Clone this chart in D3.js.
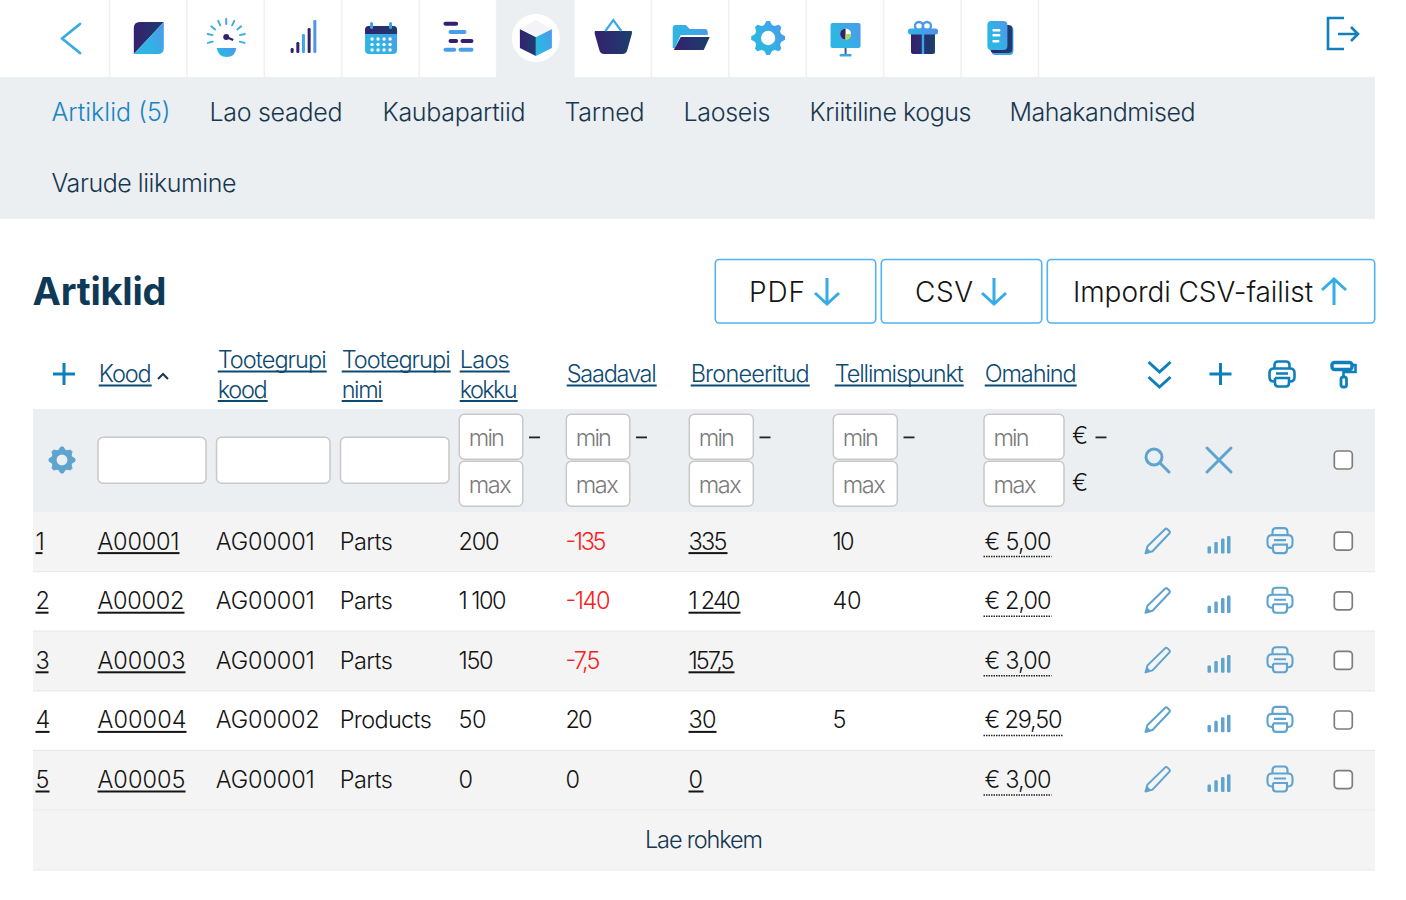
<!DOCTYPE html>
<html>
<head>
<meta charset="utf-8">
<title>Artiklid</title>
<script src="https://cdn.jsdelivr.net/npm/d3@7"></script>
<style>
	html, body { margin: 0; padding: 0; background: #fff; overflow: hidden; }
	svg { display: block; }
	text { font-family: Inter, "Open Sans", sans-serif; font-weight: 300; }
</style>
</head>
<body>
<svg id="view" width="1406" height="900"></svg>
<script>
// table data
var rowIds = [1, 2, 3, 4, 5];
var codes = ['A00001', 'A00002', 'A00003', 'A00004', 'A00005'];
var groupCodes = ['AG00001', 'AG00001', 'AG00001', 'AG00002', 'AG00001'];
var groupNames = ['Parts', 'Parts', 'Parts', 'Products', 'Parts'];
var inStock = [200, 1100, 150, 50, 0];
var available = [-135, -140, -7.5, 20, 0];
var reserved = [335, 1240, 157.5, 30, 0];
var reorderPoint = [10, 40, null, 5, null];
var costPrice = [5, 2, 3, 29.5, 3];

var navLabels = ['Artiklid (5)', 'Lao seaded', 'Kaubapartiid', 'Tarned', 'Laoseis', 'Kriitiline kogus', 'Mahakandmised', 'Varude liikumine'];
var buttonLabels = ['PDF', 'CSV', 'Impordi CSV-failist'];
var tabIcons = ['note', 'gauge', 'signal', 'calendar', 'gantt', 'box', 'basket', 'folder', 'gear', 'board', 'gift', 'docs'];

var navX = [51.5, 209.5, 382.5, 564.5, 683.5, 809.5, 1009.5, 51.5];
var navBase = [121, 121, 121, 121, 121, 121, 121, 191.5];
var buttonBox = [[715.3, 160.4], [881.3, 160.4], [1047.3, 327.4]];
var buttonTextX = [749, 915, 1073];
var buttonArrowX = [827, 994, 1334];
var textWidth = {
	'Artiklid (5)': 119, 'Lao seaded': 133, 'Kaubapartiid': 143, 'Tarned': 80, 'Laoseis': 87,
	'Kriitiline kogus': 162, 'Mahakandmised': 186, 'Varude liikumine': 185,
	'Artiklid': 134, 'PDF': 56, 'CSV': 58, 'Impordi CSV-failist': 240, 'Lae rohkem': 118,
	'Kood': 53, 'Tootegrupi': 109, 'kood': 50, 'nimi': 41, 'Laos': 50, 'kokku': 58,
	'Saadaval': 90, 'Broneeritud': 119, 'Tellimispunkt': 129, 'Omahind': 92,
	'A00001': 82, 'A00002': 87, 'A00003': 88, 'A00004': 89, 'A00005': 88,
	'AG00001': 99, 'AG00002': 104, 'Parts': 53, 'Products': 92,
	'200': 41, '1 100': 48, '150': 35, '50': 28, '0': 15,
	'-135': 41, '-140': 45, '-7,5': 35, '20': 27,
	'335': 39, '1 240': 52, '157,5': 46, '30': 28,
	'10': 22, '40': 29, '5': 14,
	'€ 5,00': 67, '€ 2,00': 67, '€ 3,00': 67, '€ 29,50': 78,
	'1': 7, '2': 13, '3': 13, '4': 14,
	'min': 36, 'max': 43
};

var COLOR_NAV = '#17374f', COLOR_HEAD = '#0d4a72', COLOR_BLUE = '#0f7fbc', COLOR_SOFT = '#5fa3cf';
var COLOR_BODY = '#141414', COLOR_RED = '#fb2020', COLOR_BAND = '#ecEff2', COLOR_ROW = '#f4f4f5';

var svg = d3.select('#view');

var numberLocale = d3.formatLocale({ decimal: ',', thousands: '\u2009', grouping: [3], currency: ['€ ', ''], minus: '-' });
var fmtNumber = function (d) { return numberLocale.format(',.1~f')(d).replace('\u2009', ' '); };
var fmtMoney = function (d) { return '€ ' + numberLocale.format(',.2f')(d); };

var columnX = d3.scaleOrdinal()
	.domain(['id', 'code', 'groupCode', 'groupName', 'stock', 'available', 'reserved', 'reorder', 'cost', 'edit', 'stats', 'print', 'check'])
	.range([35.5, 97.5, 215.8, 339.8, 458.5, 565.5, 688.5, 832.5, 983.5, 1157.5, 1219, 1280, 1343.3]);

var rowY = d3.scaleBand().domain(rowIds).range([512, 810]);
var tabX = d3.scaleBand().domain(tabIcons).range([109.5, 1038.5]);

/* text helper, tracks each string to the width it has in the reference */
function label(parent, str, x, y, opts) {
	opts = opts || {};
	var t = parent.append('text')
		.attr('x', x).attr('y', y)
		.attr('font-size', opts.size || 23.5)
		.attr('fill', opts.color || COLOR_BODY)
		.style('font-weight', opts.weight || 300)
		.text(str);
	var w = textWidth[str];
	if (w) {
		t.attr('textLength', w).attr('lengthAdjust', 'spacing');
	}
	if (opts.underline) {
		parent.append('rect')
			.attr('x', x).attr('y', y + 2.5)
			.attr('width', w).attr('height', 2)
			.attr('fill', opts.color || COLOR_BODY);
	}
	return t;
}

function addGradient(id, stops, x2, y2) {
	var g = defs.append('linearGradient').attr('id', id)
		.attr('x1', 0).attr('y1', 0).attr('x2', x2).attr('y2', y2);
	stops.forEach(function (s, i) {
		g.append('stop').attr('offset', i / (stops.length - 1)).attr('stop-color', s);
	});
}

var defs = svg.append('defs');
addGradient('gDark', ['#35206f', '#1b3f6d'], 1, 0);
addGradient('gLight', ['#2fb4e3', '#4f8fee'], 1, 0);
addGradient('gDiag', ['#2fb4e3', '#5b8def'], 1, -0.6);

/* ---- icons, drawn around 0,0 ---- */
var icons = {
	note: function (g) {
		g.append('path').attr('d', 'M-15,16 V-10 Q-15,-16 -9,-16 H15 L-15,16Z').attr('fill', 'url(#gDark)');
		g.append('path').attr('d', 'M15,-16 V10 Q15,16 9,16 H-15 Z').attr('fill', 'url(#gDiag)');
	},
	gauge: function (g) {
		[-105, -78, -52, -25, 0, 25, 52, 78, 105].forEach(function (a) {
			g.append('line').attr('x1', 0).attr('y1', -14).attr('x2', 0).attr('y2', -19)
				.attr('transform', 'rotate(' + a + ')')
				.attr('stroke', a % 50 === 0 ? '#4b97ea' : '#37ade6').attr('stroke-width', 1.9).attr('stroke-linecap', 'round');
		});
		g.append('circle').attr('cx', 0).attr('cy', -1).attr('r', 3).attr('fill', '#33206f');
		g.append('line').attr('x1', 0).attr('y1', -1).attr('x2', 7).attr('y2', 2).attr('stroke', '#33206f').attr('stroke-width', 2.4);
		g.append('path').attr('d', 'M-9.5,10 H10 Q9,19 0.5,19 Q-8,19 -9.5,10Z').attr('fill', 'url(#gDiag)');
	},
	signal: function (g) {
		[[-11.5, 5, '#35206f'], [-5.8, 11, '#35206f'], [-0.2, 19, '#3aa8e6'], [5.5, 25, '#35206f'], [11.2, 33, '#4b97ea']].forEach(function (b) {
			g.append('rect').attr('x', b[0] - 1.5).attr('y', 15 - b[1]).attr('width', 3).attr('height', b[1]).attr('rx', 1.3).attr('fill', b[2]);
		});
	},
	calendar: function (g) {
		g.append('rect').attr('x', -16).attr('y', -12).attr('width', 32).attr('height', 28).attr('rx', 4).attr('fill', 'url(#gDiag)');
		g.append('path').attr('d', 'M-16,-4 V-8 Q-16,-12 -12,-12 H12 Q16,-12 16,-8 V-4Z').attr('fill', 'url(#gDark)');
		[-5, 5].forEach(function (x) {
			g.append('rect').attr('x', x * 1.9 - 1.5).attr('y', -16).attr('width', 3).attr('height', 7).attr('rx', 1.5).attr('fill', '#3f9fe8');
		});
		[-9, -3, 3, 9].forEach(function (x) {
			[1, 6.5, 12].forEach(function (y) {
				g.append('circle').attr('cx', x).attr('cy', y).attr('r', 1.7).attr('fill', '#fff');
			});
		});
	},
	gantt: function (g) {
		[[-15, -14.3, 14.7, 0], [-10, -6, 18, 1], [-10, 3, 9.7, 0], [2, 3, 13, 0], [-15, 11.7, 12.7, 1], [0, 11.7, 15, 1]].forEach(function (b) {
			g.append('rect').attr('x', b[0]).attr('y', b[1] - 2).attr('width', b[2]).attr('height', 4).attr('rx', 2)
				.attr('fill', b[3] ? '#4b9fe8' : '#33206f');
		});
	},
	box: function (g) {
		g.append('ellipse').attr('rx', 24).attr('ry', 24).attr('fill', '#fff');
		g.append('path').attr('d', 'M-16,-9 L0,-1 V18 L-16,10Z').attr('fill', 'url(#gDark)');
		g.append('path').attr('d', 'M16,-9 L0,-1 V18 L16,10Z').attr('fill', 'url(#gDiag)');
		g.append('path').attr('d', 'M-16,-9 L0,-18 L16,-9 L0,-1Z').attr('fill', '#f2f4f7');
	},
	basket: function (g) {
		g.append('path').attr('d', 'M-18,-7 H18 Q19,-7 18.5,-4 L14,12 Q13,16 9,16 H-9 Q-13,16 -14,12 L-18.5,-4 Q-19,-7 -18,-7Z').attr('fill', 'url(#gDark)');
		g.append('path').attr('d', 'M-8,-7 L0,-18 L8,-7').attr('fill', 'none').attr('stroke', '#3aa8e6').attr('stroke-width', 2.2);
	},
	folder: function (g) {
		g.append('path').attr('d', 'M-18,10 V-10 Q-18,-13 -15,-13 H-5 L-1,-9 H14 Q17,-9 17,-6 V-3 H-10 L-16,10Z').attr('fill', 'url(#gDiag)');
		g.append('path').attr('d', 'M-10,-1 H19 L13,12 H-17Z').attr('fill', 'url(#gDark)');
	},
	gear: function (g, color, r) {
		r = r || 17;
		var n = 8, d = '';
		d3.range(n * 4).forEach(function (i) {
			var a = (i + 0.5 - 1) / (n * 4) * 2 * Math.PI;
			var rad = (i % 4 < 2) ? r : r * 0.8;
			d += (i ? 'L' : 'M') + (Math.cos(a) * rad).toFixed(2) + ',' + (Math.sin(a) * rad).toFixed(2);
		});
		d += 'Z';
		g.append('path').attr('d', d).attr('fill', color || 'url(#gDiag)').attr('stroke', color || 'none').attr('stroke-linejoin', 'round');
		g.append('circle').attr('r', r * 0.42).attr('fill', color ? COLOR_BAND : '#fff');
	},
	board: function (g) {
		g.append('rect').attr('x', -15).attr('y', -15).attr('width', 30).attr('height', 25).attr('rx', 2).attr('fill', 'url(#gDiag)');
		g.append('circle').attr('cy', -4).attr('r', 5.5).attr('fill', '#fff');
		g.append('path').attr('d', 'M0,-4 V-9.5 A5.5,5.5 0 0 0 0,1.5Z').attr('fill', '#33206f');
		g.append('path').attr('d', 'M0,-4 H5.5 A5.5,5.5 0 0 1 0,1.5Z').attr('fill', '#b5d84a');
		g.append('rect').attr('x', -1).attr('y', 10).attr('width', 2).attr('height', 7).attr('fill', '#2f5f98');
		g.append('rect').attr('x', -6).attr('y', 16).attr('width', 12).attr('height', 2.5).attr('rx', 1).attr('fill', '#3aa8e6');
	},
	gift: function (g) {
		g.append('rect').attr('x', -12).attr('y', -9).attr('width', 24).attr('height', 25).attr('rx', 2).attr('fill', 'url(#gDark)');
		g.append('circle').attr('cx', -4).attr('cy', -12).attr('r', 4).attr('fill', 'none').attr('stroke', '#4b97ea').attr('stroke-width', 2.4);
		g.append('circle').attr('cx', 4).attr('cy', -12).attr('r', 4).attr('fill', 'none').attr('stroke', '#4b97ea').attr('stroke-width', 2.4);
		g.append('rect').attr('x', -15).attr('y', -9.5).attr('width', 30).attr('height', 6).attr('rx', 2.5).attr('fill', 'url(#gLight)');
		g.append('rect').attr('x', -1.2).attr('y', -4).attr('width', 2.4).attr('height', 20).attr('fill', '#3aa8e6');
	},
	docs: function (g) {
		g.append('rect').attr('x', -9).attr('y', -12).attr('width', 22).attr('height', 29).attr('rx', 4).attr('fill', '#3fa6e8');
		g.append('rect').attr('x', -10).attr('y', -13).attr('width', 22).attr('height', 28).attr('rx', 4).attr('fill', 'url(#gDark)');
		g.append('rect').attr('x', -13).attr('y', -17).attr('width', 20).attr('height', 29).attr('rx', 4).attr('fill', 'url(#gDiag)');
		[-8, -3, 3].forEach(function (y, i) {
			g.append('rect').attr('x', -8).attr('y', y - 1).attr('width', i === 2 ? 7 : 8).attr('height', 2.4).attr('rx', 1).attr('fill', '#fff');
		});
	},
	plus: function (g, color) {
		g.append('path').attr('d', 'M-11,0 H11 M0,-11 V11').attr('fill', 'none').attr('stroke', color).attr('stroke-width', 3);
	},
	chevrons: function (g, color) {
		g.append('path').attr('d', 'M-11,-12 L0,-2 L11,-12 M-11,3 L0,13 L11,3').attr('fill', 'none').attr('stroke', color).attr('stroke-width', 3);
	},
	printer: function (g, color, weight) {
		var p = g.append('g').attr('fill', 'none').attr('stroke', color).attr('stroke-width', weight || 2.1);
		p.append('path').attr('d', 'M-7.5,-5.5 V-9 Q-7.5,-12.5 -4,-12.5 H4 Q7.5,-12.5 7.5,-9 V-5.5');
		p.append('path').attr('d', 'M-7,7.5 H-8 Q-12.5,7.5 -12.5,3 V-1 Q-12.5,-5.5 -8,-5.5 H8 Q12.5,-5.5 12.5,-1 V3 Q12.5,7.5 8,7.5 H7');
		p.append('path').attr('d', 'M-6,-0.5 H6 M-7,4 H7 V9 Q7,12.5 4,12.5 H-4 Q-7,12.5 -7,9 V4');
	},
	roller: function (g, color) {
		var p = g.append('g').attr('fill', 'none').attr('stroke', color);
		p.append('rect').attr('x', -11.5).attr('y', -11.5).attr('width', 20).attr('height', 7).attr('rx', 2.5).attr('stroke-width', 3.4);
		p.append('path').attr('d', 'M9,-9 H12 V-2 H0 V4').attr('stroke-width', 2.6);
		p.append('rect').attr('x', -2.5).attr('y', 3).attr('width', 5.5).attr('height', 10).attr('rx', 2).attr('stroke-width', 2.8);
	},
	search: function (g, color) {
		g.append('circle').attr('cx', -3).attr('cy', -3).attr('r', 8).attr('fill', 'none').attr('stroke', color).attr('stroke-width', 3);
		g.append('line').attr('x1', 3).attr('y1', 3).attr('x2', 12).attr('y2', 12).attr('stroke', color).attr('stroke-width', 3).attr('stroke-linecap', 'round');
	},
	cross: function (g, color) {
		g.append('path').attr('d', 'M-12,-12 L12,12 M12,-12 L-12,12').attr('stroke', color).attr('stroke-width', 3).attr('stroke-linecap', 'round');
	},
	pencil: function (g, color) {
		g.append('path').attr('d', 'M-12,12 L-10,5 L8,-12.5 Q9,-13 10,-12 L12,-10 Q13,-9 12,-8 L-5,10Z')
			.attr('fill', 'none').attr('stroke', color).attr('stroke-width', 2).attr('stroke-linejoin', 'round');
		g.append('path').attr('d', 'M-12,12 L-10,7 L-7,10Z').attr('fill', color);
	},
	bars: function (g, color) {
		[[-11.5, 7.3], [-4.7, 11.6], [2, 15], [8, 17.6]].forEach(function (b) {
			g.append('rect').attr('x', b[0]).attr('y', 12.3 - b[1]).attr('width', 3.5).attr('height', b[1]).attr('rx', 1.2).attr('fill', color);
		});
	},
	checkbox: function (g) {
		g.append('rect').attr('x', -9).attr('y', -9).attr('width', 18).attr('height', 18).attr('rx', 3.5)
			.attr('fill', '#fff').attr('stroke', '#7d7d7d').attr('stroke-width', 1.7);
	}
};

function icon(name, x, y, color, extra) {
	var g = svg.append('g').attr('transform', 'translate(' + x + ',' + y + ')');
	icons[name](g, color, extra);
	return g;
}

/* ---- top bar ---- */
svg.append('rect').attr('x', tabX('box')).attr('y', 0).attr('width', tabX.bandwidth()).attr('height', 77).attr('fill', COLOR_BAND);
svg.append('rect').attr('x', 0).attr('y', 77).attr('width', 1375).attr('height', 142).attr('fill', COLOR_BAND);

svg.append('g').selectAll('line')
	.data(tabX.domain().concat('end'))
	.join('line')
	.attr('x1', function (d) { return d === 'end' ? tabX.range()[1] : tabX(d); })
	.attr('x2', function (d) { return d === 'end' ? tabX.range()[1] : tabX(d); })
	.attr('y1', 0).attr('y2', 77)
	.attr('stroke', '#eef0f3').attr('stroke-width', 1.5);

svg.append('path').attr('d', 'M80,24 L62,38.5 L80,53').attr('fill', 'none').attr('stroke', '#35ace8').attr('stroke-width', 2.8).attr('stroke-linecap', 'round').attr('stroke-linejoin', 'round');

tabIcons.forEach(function (name) {
	icon(name, tabX(name) + tabX.bandwidth() / 2 + 0.6, 38);
});

// logout
svg.append('path').attr('d', 'M1344,18 H1328 V49 H1344 M1338,34 H1358 M1351,27 L1358,34 L1351,41')
	.attr('fill', 'none').attr('stroke', '#117fba').attr('stroke-width', 2.6);

/* ---- sub navigation ---- */
navLabels.forEach(function (d, i) {
	label(svg, d, navX[i], navBase[i], { size: 25, color: i === 0 ? '#1a84c2' : COLOR_NAV });
});

/* ---- title and buttons ---- */
label(svg, 'Artiklid', 32.5, 305, { size: 38, color: '#0f3a57', weight: 700 });

buttonLabels.forEach(function (d, i) {
	svg.append('rect').attr('x', buttonBox[i][0]).attr('y', 259.5).attr('width', buttonBox[i][1]).attr('height', 63.5).attr('rx', 4)
		.attr('fill', '#fff').attr('stroke', '#4fb3ee').attr('stroke-width', 1.6);
	label(svg, d, buttonTextX[i], 302, { size: 28 });
	var up = i === 2;
	var ax = buttonArrowX[i];
	svg.append('path')
		.attr('d', up ? 'M' + ax + ',305 V279 M' + (ax - 12) + ',290 L' + ax + ',279 L' + (ax + 12) + ',290'
			: 'M' + ax + ',278 V304 M' + (ax - 12) + ',293 L' + ax + ',304 L' + (ax + 12) + ',293')
		.attr('fill', 'none').attr('stroke', '#35ace8').attr('stroke-width', 3);
});

/* ---- table head ---- */
var headLinks = [
	['Kood', 98.7, 382], ['Tootegrupi', 217.7, 368], ['kood', 217.7, 397.5], ['Tootegrupi', 341.7, 368], ['nimi', 341.7, 397.5],
	['Laos', 459.7, 368], ['kokku', 459.7, 397.5], ['Saadaval', 566.7, 382], ['Broneeritud', 690.7, 382],
	['Tellimispunkt', 834.7, 382], ['Omahind', 984.7, 382]
];
headLinks.forEach(function (d) {
	label(svg, d[0], d[1], d[2], { color: COLOR_HEAD, underline: true });
});
svg.append('path').attr('d', 'M158,379 L163,374 L168,379').attr('fill', 'none').attr('stroke', '#17374f').attr('stroke-width', 2);

icon('plus', 64, 374, COLOR_BLUE);
icon('chevrons', 1159.5, 374, COLOR_BLUE);
icon('plus', 1220.5, 374, COLOR_BLUE);
icon('printer', 1282, 374, COLOR_BLUE, 2.6);
icon('roller', 1343.5, 374, COLOR_BLUE);

/* ---- filter row ---- */
svg.append('rect').attr('x', 33).attr('y', 409).attr('width', 1342).attr('height', 103).attr('fill', COLOR_BAND);

function inputBox(x, y, w, h, placeholder, base) {
	svg.append('rect').attr('x', x).attr('y', y + 0.3).attr('width', w).attr('height', h).attr('rx', 5)
		.attr('fill', '#fff').attr('stroke', '#c8c8c8').attr('stroke-width', 1.5);
	if (placeholder) {
		label(svg, placeholder, x + 9.5, base, { color: '#7b7b7b', size: 23.5 });
	}
}

[[98, 108], [216.5, 113.5], [340.5, 108.5]].forEach(function (d) {
	inputBox(d[0], 437, d[1], 46);
});
[[459.3, 63.5], [566.3, 63.5], [689.3, 64], [833.3, 64], [984, 80]].forEach(function (d) {
	inputBox(d[0], 414, d[1], 45, 'min', 445.5);
	inputBox(d[0], 461, d[1], 45, 'max', 493);
});
[534.5, 641.5, 765, 909, 1101].forEach(function (x) {
	svg.append('rect').attr('x', x - 5.5).attr('y', 436.5).attr('width', 11).attr('height', 1.8).attr('fill', '#222');
});
label(svg, '€', 1072, 444, { size: 24 });
label(svg, '€', 1072, 491, { size: 24 });

icon('gear', 62, 460, COLOR_SOFT, 13);
icon('search', 1157, 460, COLOR_SOFT);
icon('cross', 1219, 460, COLOR_SOFT);
icon('checkbox', 1343.3, 460);

/* ---- rows ---- */
var rows = svg.append('g').selectAll('g.row')
	.data(rowIds.map(function (id, i) { return i; }))
	.join('g')
	.attr('class', 'row');

rows.append('rect')
	.attr('x', 33).attr('width', 1342)
	.attr('y', function (i) { return rowY(rowIds[i]); })
	.attr('height', rowY.bandwidth())
	.attr('fill', function (i) { return i % 2 === 0 ? COLOR_ROW : '#fff'; });

/* ---- load more ---- */
svg.append('rect').attr('x', 33).attr('y', 810).attr('width', 1342).attr('height', 60).attr('fill', COLOR_ROW);
svg.append('line').attr('x1', 33).attr('x2', 1375).attr('y1', 870).attr('y2', 870).attr('stroke', '#e7eaed').attr('stroke-width', 1.2);
label(svg, 'Lae rohkem', 645, 848, { color: COLOR_NAV });

// row separators go over the footer band too
svg.append('g').selectAll('line')
	.data(rowIds)
	.join('line')
	.attr('x1', 33).attr('x2', 1375)
	.attr('y1', function (d) { return rowY(d) + rowY.bandwidth(); })
	.attr('y2', function (d) { return rowY(d) + rowY.bandwidth(); })
	.attr('stroke', '#e7e9ec').attr('stroke-width', 1.2);

rowIds.forEach(function (id, i) {
	var mid = rowY(id) + rowY.bandwidth() / 2 - 0.6;
	var base = mid + 8.4;
	var g = svg.append('g');
	label(g, String(id), columnX('id'), base, { underline: true });
	label(g, codes[i], columnX('code'), base, { underline: true });
	label(g, groupCodes[i], columnX('groupCode'), base);
	label(g, groupNames[i], columnX('groupName'), base);
	label(g, fmtNumber(inStock[i]), columnX('stock'), base);
	label(g, fmtNumber(available[i]), columnX('available'), base, { color: available[i] < 0 ? COLOR_RED : COLOR_BODY });
	label(g, fmtNumber(reserved[i]), columnX('reserved'), base, { underline: true });
	if (reorderPoint[i] !== null) {
		label(g, fmtNumber(reorderPoint[i]), columnX('reorder'), base);
	}
	var price = fmtMoney(costPrice[i]);
	label(g, price, columnX('cost') + 1, base);
	g.append('line')
		.attr('x1', columnX('cost')).attr('x2', columnX('cost') + textWidth[price] + 1)
		.attr('y1', base + 7).attr('y2', base + 7)
		.attr('stroke', '#222').attr('stroke-width', 1.5).attr('stroke-dasharray', '1.5 1');
	icon('pencil', columnX('edit'), mid, COLOR_SOFT);
	icon('bars', columnX('stats'), mid, COLOR_SOFT);
	icon('printer', columnX('print'), mid - 0.6, COLOR_SOFT);
	icon('checkbox', columnX('check'), mid);
});
</script>
</body>
</html>
